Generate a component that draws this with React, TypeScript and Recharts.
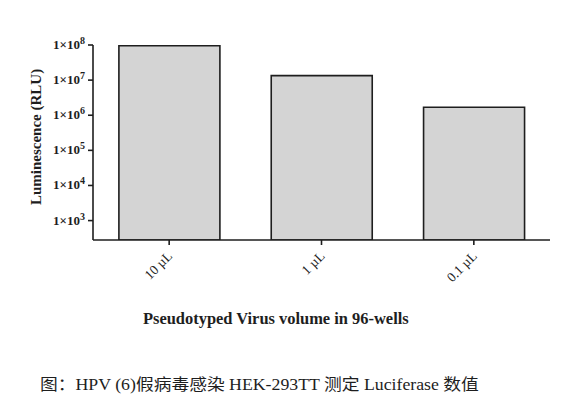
import { BarChart, Bar, XAxis, YAxis } from 'recharts'

const categories = ['10 µL', '1 µL', '0.1 µL']
const luminescence = [95000000, 13400000, 1690000]
const yTicks = [1e3, 1e4, 1e5, 1e6, 1e7, 1e8]

const data = categories.map((name, i) => ({ name, value: luminescence[i] }))

const serif = 'Liberation Serif, DejaVu Serif, Noto Sans CJK SC, serif'
const ink = '#1e1e1e'

function YTick({ x, y, payload }: any) {
    const exp = Math.round(Math.log10(payload.value))
    return (
        <text x={x - 1} y={y} dy={4} textAnchor="end" fontFamily={serif} fontWeight="bold" fontSize={13} fill={ink}>
            1×10
            <tspan dy={-5} fontSize={10}>{exp}</tspan>
        </text>
    )
}

function XTick({ x, y, payload }: any) {
    return (
        <text
            x={x + 4}
            y={y + 10}
            textAnchor="end"
            transform={`rotate(-45, ${x + 4}, ${y + 10})`}
            fontFamily={serif}
            fontSize={13.5}
            fill={ink}
        >
            {payload.value}
        </text>
    )
}

export default function App() {
    return (
        <div style={{ position: 'absolute', left: 0, top: 0, width: 561, height: 399, background: '#fff', fontFamily: serif }}>
            <BarChart
                width={561}
                height={399}
                data={data}
                margin={{ top: 45, right: 11, left: 0, bottom: 99 }}
                barCategoryGap="17%"
            >
                <XAxis
                    dataKey="name"
                    height={60}
                    axisLine={{ stroke: ink, strokeWidth: 1.6 }}
                    tickLine={{ stroke: ink, strokeWidth: 1.6 }}
                    tickSize={5}
                    tick={<XTick />}
                    interval={0}
                />
                <YAxis
                    scale="log"
                    domain={[280, 1e8]}
                    ticks={yTicks}
                    allowDataOverflow
                    width={93}
                    axisLine={{ stroke: ink, strokeWidth: 1.6 }}
                    tickLine={{ stroke: ink, strokeWidth: 1.6 }}
                    tickSize={5}
                    tick={<YTick />}
                    label={{
                        content: () => (
                            <text
                                x={36}
                                y={137}
                                transform="rotate(-90, 36, 137)"
                                textAnchor="middle"
                                dominantBaseline="central"
                                fontFamily={serif}
                                fontWeight="bold"
                                fontSize={15}
                                fill={ink}
                            >
                                Luminescence (RLU)
                            </text>
                        ),
                    }}
                />
                <Bar dataKey="value" fill="#d4d4d4" stroke={ink} strokeWidth={1.6} isAnimationActive={false} />
            </BarChart>
            <div style={{ position: 'absolute', left: 143, top: 310, fontWeight: 'bold', fontSize: 16, color: ink, whiteSpace: 'nowrap', transform: 'scaleX(1.027)', transformOrigin: 'left center' }}>
                Pseudotyped Virus volume in 96-wells
            </div>
            <div style={{ position: 'absolute', left: 40, top: 371, fontSize: 16, color: ink, whiteSpace: 'nowrap', transform: 'scaleX(1.11)', transformOrigin: 'left center' }}>
                图：HPV (6)假病毒感染 HEK-293TT 测定 Luciferase 数值
            </div>
        </div>
    )
}
